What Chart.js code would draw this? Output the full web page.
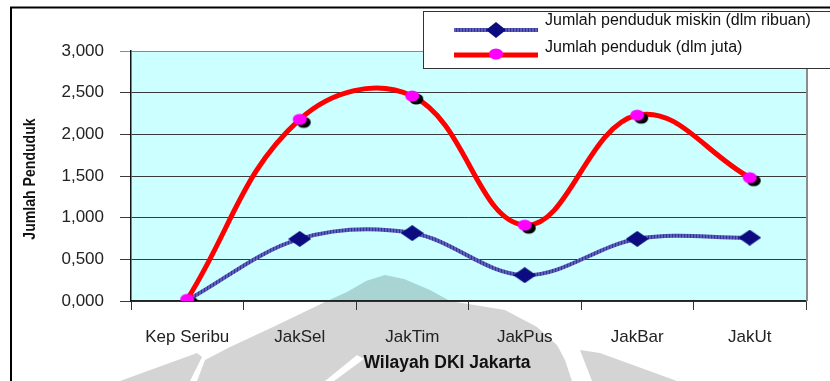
<!DOCTYPE html>
<html>
<head>
<meta charset="utf-8">
<script src="https://cdn.jsdelivr.net/npm/chart.js@4.4.1/dist/chart.umd.min.js"></script>
<style>
  html, body { margin: 0; padding: 0; background: #ffffff; }
  #wrap { width: 830px; height: 381px; position: relative; }
</style>
</head>
<body>
<div id="wrap"><canvas id="c" width="830" height="381"></canvas></div>
<script>
// Wilayah DKI Jakarta: jumlah penduduk miskin dan jumlah penduduk
const categories = ['Kep Seribu', 'JakSel', 'JakTim', 'JakPus', 'JakBar', 'JakUt'];
const miskin = [0.01, 0.745, 0.815, 0.31, 0.745, 0.76];      // dlm ribuan
const penduduk = [0.02, 2.18, 2.46, 0.91, 2.23, 1.48];       // dlm juta
const seriesNames = ['Jumlah penduduk miskin (dlm ribuan)', 'Jumlah penduduk (dlm juta)'];
const yTicks = [0, 0.5, 1, 1.5, 2, 2.5, 3];
const xTitle = 'Wilayah DKI Jakarta';
const yTitle = 'Jumlah Penduduk';

const FONT = "'Liberation Sans', Arial, sans-serif";
const canvas = document.getElementById('c');
const ctx2d = canvas.getContext('2d');

// marker images
function diamondImg(w, h, color) {
  const c = document.createElement('canvas');
  c.width = w; c.height = h;
  const g = c.getContext('2d');
  g.fillStyle = color;
  g.beginPath();
  g.moveTo(w / 2, 0); g.lineTo(w, h / 2); g.lineTo(w / 2, h); g.lineTo(0, h / 2);
  g.closePath(); g.fill();
  return c;
}
function dotImg(withShadow) {
  const c = document.createElement('canvas');
  c.width = 26; c.height = 22;
  const g = c.getContext('2d');
  if (withShadow) {
    g.fillStyle = '#000000';
    g.beginPath(); g.ellipse(13 + 4, 11 + 3, 7, 5.5, 0, 0, Math.PI * 2); g.fill();
  }
  g.fillStyle = '#ff00ff';
  g.beginPath(); g.ellipse(13, 11, 7, 5.5, 0, 0, Math.PI * 2); g.fill();
  return c;
}
function hatchPattern() {
  const c = document.createElement('canvas');
  c.width = 3; c.height = 3;
  const g = c.getContext('2d');
  g.fillStyle = '#5c5cba'; g.fillRect(0, 0, 3, 3);
  g.fillStyle = '#343497'; g.fillRect(0, 0, 1, 3);
  return ctx2d.createPattern(c, 'repeat');
}

const diamond = diamondImg(23, 16, '#0c0c80');
const diamondLegend = diamondImg(20, 16, '#0c0c80');
const dot = dotImg(true);
const dotLegend = dotImg(false);
const blueLine = hatchPattern();

// plot background and faded emblem behind the chart
const backdrop = {
  id: 'backdrop',
  beforeDraw(chart) {
    const { ctx, chartArea: a } = chart;
    ctx.save();
    ctx.fillStyle = '#ccffff';
    ctx.fillRect(a.left, a.top, a.right - a.left, a.bottom - a.top);

    const poly = (pts, color) => {
      ctx.fillStyle = color;
      ctx.beginPath();
      pts.forEach((p, i) => i ? ctx.lineTo(p[0], p[1]) : ctx.moveTo(p[0], p[1]));
      ctx.closePath(); ctx.fill();
    };
    ctx.globalCompositeOperation = 'multiply';
    poly([[385,275],[366,281],[347,292],[327,301],[273,327],[230,347],[205,360],[197,381],
          [572,381],[565,360],[557,345],[537,327],[505,310],[450,301],[430,290],[404,279]], '#d4d4d4');
    poly([[120,381],[197,353],[202,357],[190,381]], '#d4d4d4');
    poly([[580,350],[600,353],[677,381],[592,381]], '#d4d4d4');
    ctx.globalCompositeOperation = 'source-over';
    poly([[357,355],[364,359],[334,381],[325,381]], '#ffffff');
    ctx.restore();
  }
};

// frame, plot edge, axis titles and legend
const overlay = {
  id: 'overlay',
  afterDraw(chart) {
    const { ctx, chartArea: a } = chart;
    ctx.save();
    // right edge of the plot
    ctx.strokeStyle = '#8c8c8c'; ctx.lineWidth = 2;
    ctx.beginPath(); ctx.moveTo(a.right + 1, a.top); ctx.lineTo(a.right + 1, a.bottom); ctx.stroke();

    // outer frame
    ctx.strokeStyle = '#000000'; ctx.lineWidth = 2;
    ctx.beginPath(); ctx.moveTo(830, 7.5); ctx.lineTo(11, 7.5); ctx.lineTo(11, 381); ctx.stroke();

    // axis titles
    ctx.fillStyle = '#111111';
    ctx.textAlign = 'center'; ctx.textBaseline = 'middle';
    ctx.font = 'bold 17.5px ' + FONT;
    ctx.fillText(xTitle, 447, 363);
    ctx.save();
    ctx.translate(31, 179);
    ctx.rotate(-Math.PI / 2);
    ctx.scale(0.88, 1);
    ctx.font = 'bold 16px ' + FONT;
    ctx.fillText(yTitle, 0, 0);
    ctx.restore();

    // legend
    ctx.fillStyle = '#ffffff';
    ctx.fillRect(423.5, 11.5, 420, 57);
    ctx.strokeStyle = '#333333'; ctx.lineWidth = 1;
    ctx.strokeRect(423.5, 11.5, 420, 57);

    ctx.lineCap = 'butt';
    ctx.strokeStyle = blueLine; ctx.lineWidth = 4;
    ctx.beginPath(); ctx.moveTo(454, 30); ctx.lineTo(538, 30); ctx.stroke();
    ctx.drawImage(diamondLegend, 496 - diamondLegend.width / 2, 30 - diamondLegend.height / 2);

    ctx.strokeStyle = '#ff0000'; ctx.lineWidth = 5;
    ctx.beginPath(); ctx.moveTo(454, 55); ctx.lineTo(538, 55); ctx.stroke();
    ctx.drawImage(dotLegend, 496 - dotLegend.width / 2, 54 - dotLegend.height / 2);

    ctx.fillStyle = '#111111';
    ctx.textAlign = 'left';
    ctx.font = '16px ' + FONT;
    ctx.fillText(seriesNames[0], 545, 21);
    ctx.fillText(seriesNames[1], 545, 47.5);
    ctx.restore();
  }
};

new Chart(canvas, {
  type: 'line',
  data: {
    labels: categories,
    datasets: [
      {
        label: seriesNames[0],
        data: miskin,
        borderColor: blueLine,
        borderWidth: 4,
        tension: 0.35,
        pointStyle: diamond,
        pointRadius: (c) => c.dataIndex === 0 ? 0 : 6,
        pointHoverRadius: 6,
        order: 2
      },
      {
        label: seriesNames[1],
        data: penduduk,
        borderColor: '#ff0000',
        borderWidth: 5,
        tension: 0.4,
        pointStyle: dot,
        pointRadius: 6,
        pointHoverRadius: 6,
        order: 1
      }
    ]
  },
  options: {
    responsive: false,
    animation: false,
    events: [],
    layout: { padding: { left: 0, right: 24, top: 51, bottom: 20 } },
    plugins: {
      legend: { display: false },
      title: { display: false },
      tooltip: { enabled: false }
    },
    scales: {
      x: {
        type: 'category',
        offset: true,
        grid: { offset: true, drawOnChartArea: false, tickLength: 9, color: '#333333', lineWidth: 1 },
        border: { color: '#222222', width: 1.5 },
        ticks: {
          color: '#222222',
          font: { family: FONT, size: 17 },
          padding: 17,
          maxRotation: 0,
          autoSkip: false
        },
        afterFit: (s) => { s.height = 60; }
      },
      y: {
        min: 0,
        max: 3,
        afterBuildTicks: (s) => { s.ticks = yTicks.map(v => ({ value: v })); },
        grid: {
          color: (c) => (c.tick && c.tick.value === 3) ? '#8a8a8a' : '#3a3a3a',
          lineWidth: 1,
          tickLength: 11
        },
        border: { color: '#111111', width: 1.5 },
        ticks: {
          color: '#222222',
          font: { family: FONT, size: 17 },
          padding: 16,
          callback: (v) => Number(v).toFixed(3).replace('.', ',')
        },
        afterFit: (s) => { s.width = 131; }
      }
    }
  },
  plugins: [backdrop, overlay]
});
</script>
</body>
</html>
